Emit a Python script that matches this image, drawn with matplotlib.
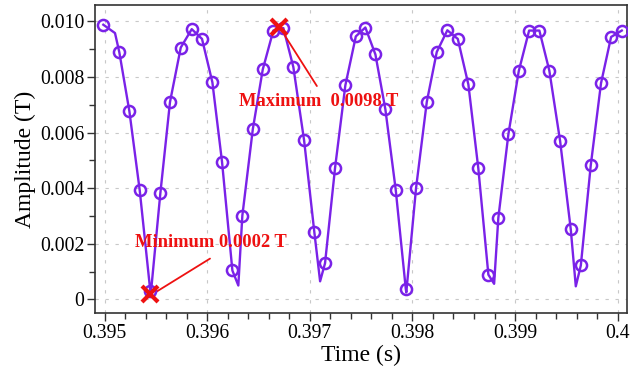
import matplotlib
matplotlib.use("Agg")
import matplotlib.pyplot as plt
from matplotlib.ticker import FixedLocator, MultipleLocator

time_s = [0.394987, 0.395143, 0.395241, 0.395342, 0.395445, 0.395543, 0.395637,
          0.395742, 0.395849, 0.395949, 0.396050, 0.396144, 0.396245, 0.396342,
          0.396444, 0.396541, 0.396644, 0.396742, 0.396839, 0.396944, 0.397044,
          0.397148, 0.397246, 0.397346, 0.397448, 0.397541, 0.397639, 0.397736,
          0.397837, 0.397935, 0.398035, 0.398140, 0.398237, 0.398340, 0.398442,
          0.398545, 0.398642, 0.398740, 0.398837, 0.398935, 0.399036, 0.399137,
          0.399237, 0.399334, 0.399439, 0.399543, 0.399641, 0.399738, 0.399838,
          0.399936, 0.400040]
amplitude = [0.00988, 0.00889, 0.00677, 0.00392, 0.00030, 0.00382, 0.00710,
             0.00906, 0.00972, 0.00937, 0.00781, 0.00495, 0.00104, 0.00301,
             0.00612, 0.00827, 0.00967, 0.00976, 0.00836, 0.00572, 0.00241,
             0.00130, 0.00474, 0.00770, 0.00946, 0.00978, 0.00881, 0.00684,
             0.00394, 0.00038, 0.00400, 0.00711, 0.00890, 0.00968, 0.00937,
             0.00773, 0.00471, 0.00089, 0.00293, 0.00594, 0.00821, 0.00967,
             0.00967, 0.00823, 0.00570, 0.00252, 0.00122, 0.00483, 0.00778,
             0.00944, 0.00967]

# extra vertices of the drawn curve (it dips below the circles at the troughs)
curve_extra_t = [0.395101, 0.395450, 0.396303, 0.397100, 0.397940, 0.398796, 0.399592]
curve_extra_a = [0.00958, 0.00020, 0.00050, 0.00065, 0.00025, 0.00056, 0.00047]

min_point = (0.395445, 0.0002)
max_point = (0.396703, 0.0098)
min_text = "Minimum 0.0002 T"
max_text = "Maximum  0.0098 T"

x_ticks = [0.395, 0.396, 0.397, 0.398, 0.399, 0.400]
x_labels = ["0.395", "0.396", "0.397", "0.398", "0.399", "0.4"]
y_ticks = [0.0, 0.002, 0.004, 0.006, 0.008, 0.010]
y_labels = ["0", "0.002", "0.004", "0.006", "0.008", "0.010"]

purple = "#7a22e8"
red = "#ee1111"

curve = sorted(zip(time_s + curve_extra_t, amplitude + curve_extra_a))
curve_t = [c[0] for c in curve]
curve_a = [c[1] for c in curve]

plt.rcParams["font.family"] = ["Liberation Serif", "DejaVu Serif"]

fig = plt.figure(figsize=(6.31, 3.75), dpi=100)
ax = fig.add_axes([0.1512, 0.1653, 0.8418, 0.8214])

ax.plot(curve_t, curve_a, color=purple, lw=1.7, zorder=3)
ax.plot(time_s, amplitude, ls="none", marker="o", ms=8, mfc="none",
        mec=purple, mew=1.8, zorder=4)

# min / max markers and labels
for pt in (min_point, max_point):
    ax.plot(*pt, marker="x", ms=11, mew=3, color=red, zorder=5)
ax.annotate("", xy=(0.395480, 0.00022), xytext=(0.396050, 0.00152),
            arrowprops=dict(arrowstyle="-", color=red, lw=1.3))
ax.annotate("", xy=(0.396720, 0.0097), xytext=(0.397083, 0.00759),
            arrowprops=dict(arrowstyle="-", color=red, lw=1.3))
ax.text(0.395296, 0.00205, min_text, color=red, fontsize=13.3,
        fontweight="bold", ha="left", va="center", zorder=6)
ax.text(0.396313, 0.00711, max_text, color=red, fontsize=13.3,
        fontweight="bold", ha="left", va="center", zorder=6)

ax.set_xlim(0.39491, 0.400087)
ax.set_ylim(-0.00049, 0.01059)

ax.xaxis.set_major_locator(FixedLocator(x_ticks))
ax.set_xticklabels(x_labels)
ax.xaxis.set_minor_locator(MultipleLocator(0.0002))
ax.yaxis.set_major_locator(FixedLocator(y_ticks))
ax.set_yticklabels(y_labels)
ax.yaxis.set_minor_locator(MultipleLocator(0.001))

ax.tick_params(which="major", direction="out", length=6, width=1,
               labelsize=14.2, color="#333333", pad=2)
ax.tick_params(which="minor", direction="out", length=4, width=1, color="#333333")

ax.grid(True, which="major", ls=(0, (3, 6)), color="#c8c8c8", lw=0.8)
for sp in ax.spines.values():
    sp.set_color("#333333")
    sp.set_linewidth(1.2)

ax.set_xlabel("Time (s)", fontsize=17, labelpad=1)
ax.set_ylabel("Amplitude (T)", fontsize=17, labelpad=3)

fig.savefig("out.png", dpi=100)
